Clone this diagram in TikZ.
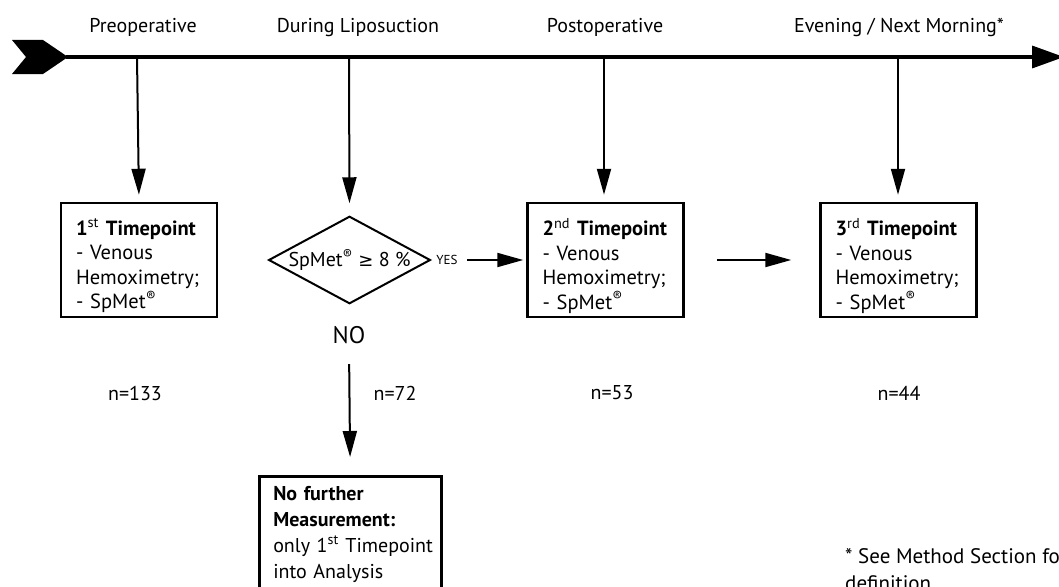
\documentclass[tikz,border=0pt]{standalone}
\usepackage{fontspec}
\setmainfont{PT Sans}
\newfontfamily\symfont{DejaVu Sans}
\usetikzlibrary{shapes.geometric,arrows.meta}
\newcommand{\regmark}{\textsuperscript{®}}
\newcommand{\ordsup}[1]{\textsuperscript{\mdseries #1}}
\begin{document}
\begin{tikzpicture}[x=1pt,y=-1pt,
  every node/.style={font=\fontsize{20}{24.5}\selectfont},
  arr/.style={line width=2pt,-{Triangle[length=26pt,width=14pt]}},
  boxfont/.style={font=\fontsize{20.5}{24.5}\selectfont},
  tpbox/.style={draw,line width=2.5pt,minimum width=156pt,minimum height=114pt,text width=126pt,inner xsep=15pt,align=left,boxfont,text depth=66pt},
  lbl/.style={anchor=base},
  small/.style={font=\fontsize{13}{15}\selectfont}
]
\useasboundingbox (0,0) rectangle (1059,586);
\clip (0,0) rectangle (1059,586);
\fill[white] (0,0) rectangle (1059,586);

% timeline
\coordinate (tl) at (66,57);
\coordinate (tr) at (1064,57);
\fill (12,40) -- (43,40) -- (68,57) -- (43,74) -- (12,74) -- (26,57) -- cycle;
\draw[line width=3.5pt,-{Triangle[length=32pt,width=22pt]}] (tl) -- (tr);
\coordinate (t1) at (137,57);
\coordinate (t2) at (349,57);
\coordinate (t3) at (604,57);
\coordinate (t4) at (898,57);

% phase labels
\node[lbl] (l1) at (143,33) {Preoperative};
\node[lbl] (l2) at (358,33) {During Liposuction};
\node[lbl] (l3) at (605,33) {Postoperative};
\node[lbl] (l4) at (899,33) {Evening / Next Morning*};

% boxes
\node[tpbox] (b1) at (139,260) {\textbf{1\ordsup{st} Timepoint}\\- Venous\\Hemoximetry;\\- SpMet\regmark};
\node[tpbox] (b2) at (605.5,260) {\textbf{2\ordsup{nd} Timepoint}\\- Venous\\Hemoximetry;\\- SpMet\regmark};
\node[tpbox] (b3) at (898.5,260) {\textbf{3\ordsup{rd} Timepoint}\\- Venous\\Hemoximetry;\\- SpMet\regmark};
\node[diamond,draw,line width=2pt,shape aspect=1.85,inner sep=0pt,minimum width=155pt,minimum height=84pt] (d) at (349.5,260) {SpMet\regmark{} {\symfont\fontsize{18}{20}\selectfont ≥} 8 \%};
\node[small] (yes) at (447,260) {YES};
\node[font=\fontsize{24}{26}\selectfont] (no) at (349,335) {NO};
\node[draw,line width=2.5pt,anchor=north west,text width=154pt,inner xsep=14pt,inner ysep=10pt,align=left,font=\fontsize{20}{26}\selectfont] (b4) at (258,475) {\textbf{No further}\\\textbf{Measurement:}\\\mbox{only 1\textsuperscript{st} Timepoint}\\into Analysis};

% counts
\node (n1) at (135,393) {n=133};
\node (n2) at (395,393) {n=72};
\node (n3) at (612,393) {n=53};
\node (n4) at (899,393) {n=44};

% footnote
\node[anchor=north west,inner sep=0pt,align=left,font=\fontsize{21}{27}\selectfont] (fn) at (845,548) {\mbox{* See Method Section for}\\definition};

% connectors
\draw[arr,shorten >=7pt] (t1) -- (b1.north);
\draw[arr,shorten >=12pt] (t2) -- (d.north);
\draw[arr,shorten >=7pt] (t3) -- (b3.north -| t3);
\draw[arr,shorten >=7pt] (t4) -- (b3.north -| t4);
\draw[arr,shorten <=6pt,shorten >=3pt] (yes.east) -- (b2.west);
\draw[arr,shorten <=32pt,shorten >=28pt] (b2.east) -- (b3.west);
\draw[arr,shorten <=17pt,shorten >=18pt] (no.south) -- (b4.north);
\end{tikzpicture}
\end{document}
